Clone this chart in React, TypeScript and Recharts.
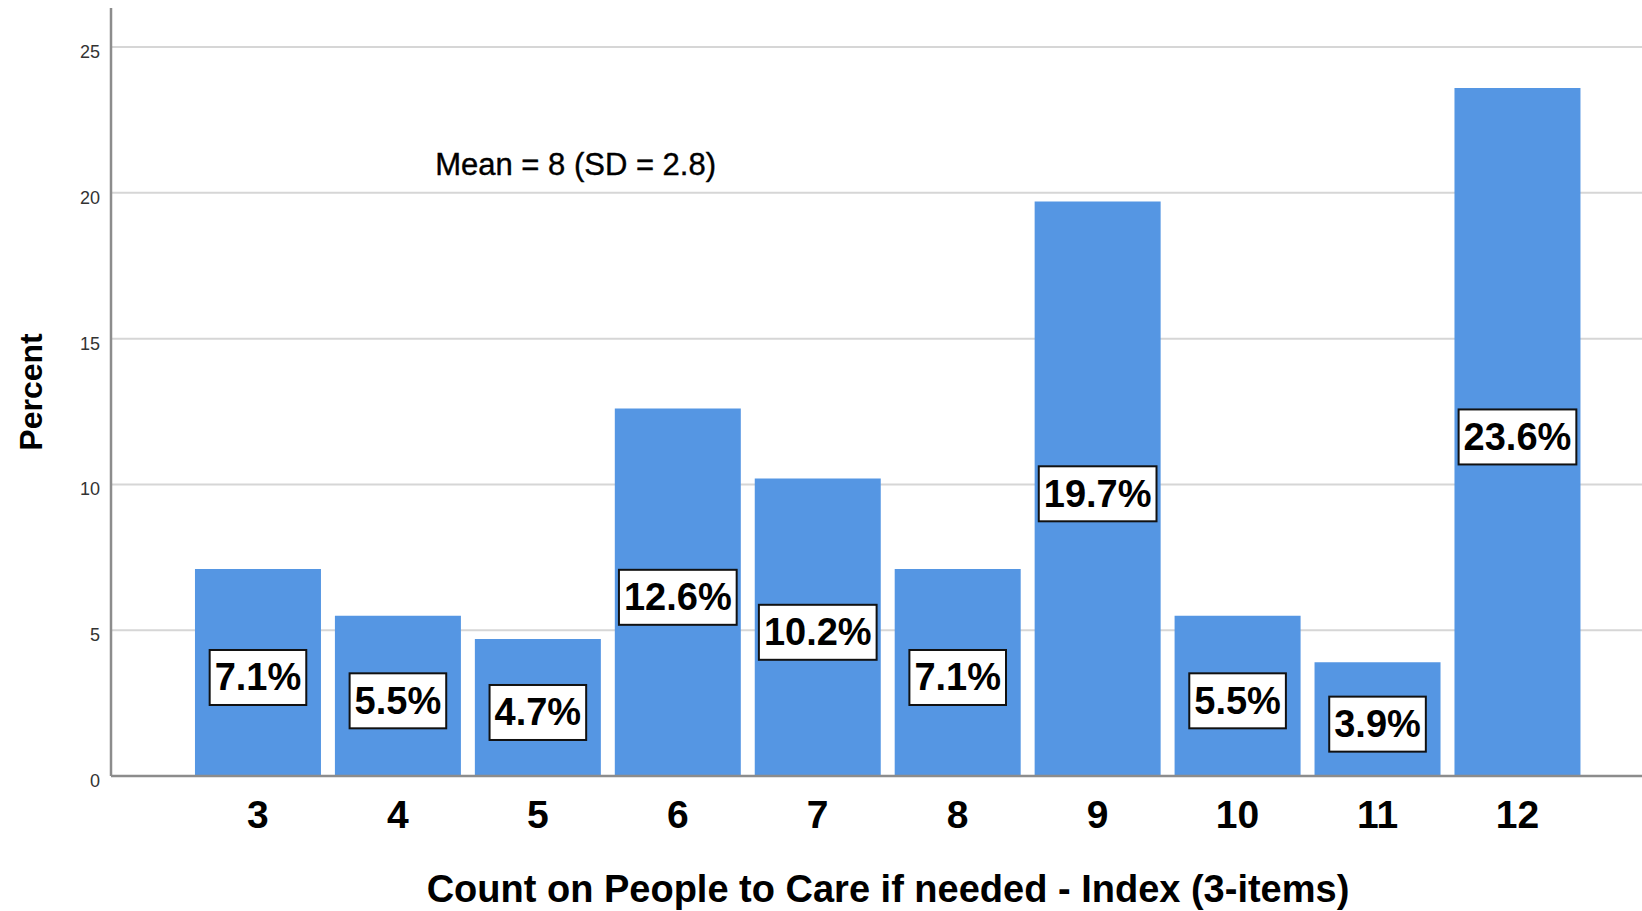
import { BarChart, Bar, XAxis, YAxis, CartesianGrid, LabelList, ReferenceDot } from 'recharts'

const categories = [3, 4, 5, 6, 7, 8, 9, 10, 11, 12]
const percents = [7.1, 5.5, 4.7, 12.6, 10.2, 7.1, 19.7, 5.5, 3.9, 23.6]
const yTicks = [0, 5, 10, 15, 20, 25]
const yMax = 26.34
const xTitle = 'Count on People to Care if needed - Index (3-items)'
const yTitle = 'Percent'
const meanNote = 'Mean = 8 (SD = 2.8)'

const data = categories.map((c, i) => ({ score: c, percent: percents[i] }))

const FONT = '"Liberation Sans", Arial, sans-serif'
const BAR = '#5596e3'

// rough Arial-bold advance widths, enough to size the label boxes
const textWidth = (s: string, fs: number) => {
  let w = 0
  for (const ch of s) w += ch === '.' ? 0.278 : ch === '%' ? 0.889 : 0.556
  return w * fs
}

// grid only at the tick values (no line at the top of the plot)
const gridRows = (args: any) => {
  const { yAxis, offset } = args
  const sc = yAxis && yAxis.scale
  if (typeof sc === 'function') return yTicks.map((t) => sc(t))
  if (sc && typeof sc.map === 'function') return yTicks.map((t) => sc.map(t))
  return yTicks.map((t) => offset.top + offset.height * (1 - t / yMax))
}

function ValueBox(props: any) {
  const { x, y, width, height, value } = props
  const txt = `${value}%`
  const fs = 38
  const bw = textWidth(txt, fs) + 10
  const bh = 55
  const cx = x + width / 2
  const cy = y + height / 2 + 5
  return (
    <g>
      <rect x={cx - bw / 2} y={cy - bh / 2} width={bw} height={bh} fill="#fff" stroke="#111" strokeWidth={2} />
      <text x={cx} y={cy + 13} textAnchor="middle" fontFamily={FONT} fontWeight="bold" fontSize={fs} fill="#000">
        {txt}
      </text>
    </g>
  )
}

function XTick(props: any) {
  const { x, y, payload } = props
  return (
    <text x={x} y={y + 44} textAnchor="middle" fontFamily={FONT} fontWeight="bold" fontSize={39} fill="#000">
      {payload.value}
    </text>
  )
}

function YTick(props: any) {
  const { x, y, payload } = props
  return (
    <text x={x} y={y + 11} textAnchor="end" fontFamily={FONT} fontSize={18} fill="#333">
      {payload.value}
    </text>
  )
}

export default function App() {
  return (
    <div style={{ position: 'absolute', left: 0, top: 0, width: 1642, height: 911, background: '#fff' }}>
      <BarChart width={1642} height={911} data={data} margin={{ top: 8, right: 0, bottom: 0, left: 51 }}>
        <CartesianGrid vertical={false} stroke="#d6d6d6" strokeWidth={2} horizontalCoordinatesGenerator={gridRows} />
        <XAxis
          dataKey="score"
          type="number"
          domain={[1.95, 12.89]}
          ticks={categories}
          allowDataOverflow
          height={135}
          tickLine={false}
          axisLine={{ stroke: '#8c8c8c', strokeWidth: 2.5 }}
          tick={<XTick />}
          label={{
            content: (p: any) => {
              const vb = p.viewBox
              return (
                <text x={888} y={vb.y + 126} textAnchor="middle" fontFamily={FONT} fontWeight="bold" fontSize={38} fill="#000">
                  {xTitle}
                </text>
              )
            },
          }}
        />
        <YAxis
          type="number"
          domain={[0, yMax]}
          ticks={yTicks}
          allowDataOverflow
          width={60}
          tickLine={false}
          tickMargin={5}
          axisLine={{ stroke: '#8c8c8c', strokeWidth: 2.5 }}
          tick={<YTick />}
          label={{
            content: (p: any) => {
              const vb = p.viewBox
              const cy = vb.y + vb.height / 2
              return (
                <text x={42} y={cy} transform={`rotate(-90 42 ${cy})`} textAnchor="middle" fontFamily={FONT} fontWeight="bold" fontSize={32} fill="#000">
                  {yTitle}
                </text>
              )
            },
          }}
        />
        <ReferenceDot
          x={5.27}
          y={20.99}
          r={0}
          fill="none"
          stroke="none"
          label={{ value: meanNote, position: 'center', fontFamily: FONT, fontSize: 31, fill: '#000', stroke: '#000', strokeWidth: 0.4 }}
        />
        <Bar dataKey="percent" fill={BAR} barSize={126} isAnimationActive={false}>
          <LabelList dataKey="percent" content={<ValueBox />} />
        </Bar>
      </BarChart>
    </div>
  )
}
